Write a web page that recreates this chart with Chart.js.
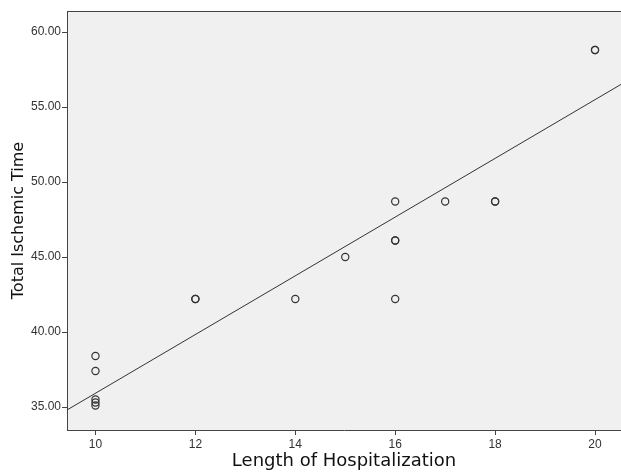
<!DOCTYPE html>
<html>
<head>
<meta charset="utf-8">
<script src="https://cdn.jsdelivr.net/npm/chart.js@4/dist/chart.umd.min.js"></script>
<style>
  html, body { margin: 0; padding: 0; background: #ffffff; overflow: hidden; }
  canvas { display: block; }
</style>
</head>
<body>
<canvas id="chart" width="621" height="472"></canvas>
<script>
// values
const hospitalDays = [10, 10, 10, 10, 10, 12, 12, 14, 15, 16, 16, 16, 16, 17, 18, 18, 20, 20]
const ischemicTime = [38.4, 37.4, 35.5, 35.3, 35.1, 42.2, 42.2, 42.2, 45.0, 48.7, 46.1, 46.1, 42.2, 48.7, 48.7, 48.7, 58.8, 58.8]
const xTicks = [10, 12, 14, 16, 18, 20]
const yTicks = [35, 40, 45, 50, 55, 60]
const xRange = [9.43, 20.52]
const yRange = [33.47, 61.4]
// fit line as drawn in the picture
const fitSlope = 1.957
const fitIntercept = 16.35

const axisColor = '#444444'
const fitLine = xRange.map(x => ({x: x, y: fitIntercept + fitSlope * x}))

const plotBackground = {
    id: 'plotBackground',
    beforeDraw(chart) {
        const {ctx, chartArea} = chart
        ctx.save()
        ctx.fillStyle = '#f0f0f0'
        ctx.fillRect(chartArea.left, chartArea.top, chartArea.right - chartArea.left, chartArea.bottom - chartArea.top)
        ctx.restore()
    },
    afterDraw(chart) {
        const {ctx, chartArea} = chart
        ctx.save()
        ctx.strokeStyle = axisColor
        ctx.lineWidth = 1
        ctx.beginPath()
        ctx.moveTo(chartArea.left, chartArea.top + 0.5)
        ctx.lineTo(chartArea.right, chartArea.top + 0.5)
        ctx.stroke()
        ctx.restore()
    }
}

new Chart(document.getElementById('chart'), {
    type: 'scatter',
    data: {
        datasets: [{
            label: 'Total Ischemic Time',
            data: hospitalDays.map((x, i) => ({x: x, y: ischemicTime[i]})),
            pointStyle: 'circle',
            pointRadius: 3.6,
            pointBorderWidth: 1.2,
            pointBorderColor: '#333333',
            pointBackgroundColor: 'rgba(0,0,0,0)',
            order: 1
        }, {
            type: 'line',
            label: 'Fit',
            data: fitLine,
            borderColor: '#333333',
            borderWidth: 1,
            pointRadius: 0,
            fill: false,
            tension: 0,
            order: 2
        }]
    },
    options: {
        responsive: false,
        animation: false,
        events: [],
        layout: {autoPadding: false, padding: {top: 11, right: 0, left: 0, bottom: 0}},
        plugins: {
            legend: {display: false},
            tooltip: {enabled: false}
        },
        scales: {
            x: {
                type: 'linear',
                min: xRange[0],
                max: xRange[1],
                afterBuildTicks: (scale) => { scale.ticks = xTicks.map(v => ({value: v})) },
                afterFit: (scale) => {
                    scale.height = 42
                    scale.paddingRight = 0
                    scale.paddingLeft = 0
                },
                grid: {drawOnChartArea: false, drawTicks: true, tickLength: 5, color: axisColor},
                border: {display: true, color: axisColor, width: 1},
                ticks: {
                    color: '#333333',
                    padding: 2,
                    font: {family: 'Liberation Sans', size: 12}
                },
                title: {
                    display: true,
                    text: 'Length of Hospitalization',
                    color: '#111111',
                    padding: {top: 1, bottom: 0},
                    font: {family: 'DejaVu Sans', size: 18}
                }
            },
            y: {
                type: 'linear',
                min: yRange[0],
                max: yRange[1],
                afterBuildTicks: (scale) => { scale.ticks = yTicks.map(v => ({value: v})) },
                afterFit: (scale) => { scale.width = 67 },
                grid: {drawOnChartArea: false, drawTicks: true, tickLength: 5, color: axisColor},
                border: {display: true, color: axisColor, width: 1},
                ticks: {
                    color: '#333333',
                    padding: 1,
                    callback: (value) => Number(value).toFixed(2),
                    font: {family: 'Liberation Sans', size: 12}
                },
                title: {
                    display: true,
                    text: 'Total Ischemic Time',
                    color: '#111111',
                    padding: {top: 9, bottom: 0},
                    font: {family: 'DejaVu Sans', size: 16}
                }
            }
        }
    },
    plugins: [plotBackground]
})
</script>
</body>
</html>
